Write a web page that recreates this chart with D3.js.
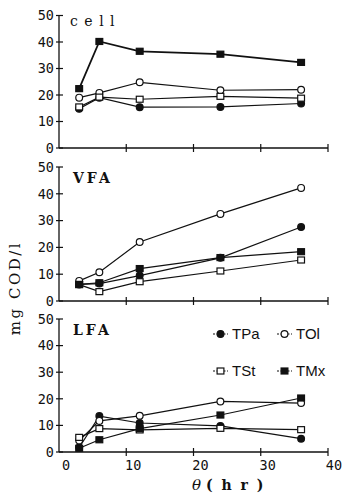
<!DOCTYPE html>
<html>
<head>
<meta charset="utf-8">
<script src="https://cdn.jsdelivr.net/npm/d3@7"></script>
<style>
  body { margin: 0; background: #fff; }
  svg { display: block; }
  .tick-num { font-family: "DejaVu Sans Mono", monospace; font-size: 13.5px; font-variant-numeric: slashed-zero; fill: #111; }
  .panel-label { font-family: "DejaVu Serif", serif; font-size: 14px; fill: #111; }
  .legend-text { font-family: "Liberation Sans", sans-serif; font-size: 15px; fill: #111; }
</style>
</head>
<body>
<div id="chart"></div>
<script>
// sampling times (hr)
const hours = [3, 6, 12, 24, 36];
const xTicks = [0, 10, 20, 30, 40];
const yTicks = [0, 10, 20, 30, 40, 50];
const seriesNames = ['TPa', 'TOl', 'TSt', 'TMx'];
const panelNames = ['cell', 'VFA', 'LFA'];

// mg COD/l
const cellTPa = [14.8, 19, 15.4, 15.5, 16.8];
const cellTOl = [19, 20.8, 24.8, 21.8, 22];
const cellTSt = [15.5, 19.2, 18.4, 19.5, 18.8];
const cellTMx = [22.4, 40.2, 36.5, 35.4, 32.3];

const vfaTPa = [6.2, 6.5, 9.5, 16.1, 27.6];
const vfaTOl = [7.5, 10.7, 22, 32.5, 42.2];
const vfaTSt = [6.1, 3.5, 7.2, 11.2, 15.3];
const vfaTMx = [6.2, 6.8, 12.1, 16.2, 18.4];

const lfaTPa = [1.7, 13.5, 10.9, 9.8, 5];
const lfaTOl = [4.3, 11.7, 13.6, 19, 18.4];
const lfaTSt = [5.5, 8.8, 8.3, 8.9, 8.4];
const lfaTMx = [1.4, 4.6, 8.8, 13.9, 20.3];

const panelData = [
  [cellTPa, cellTOl, cellTSt, cellTMx],
  [vfaTPa, vfaTOl, vfaTSt, vfaTMx],
  [lfaTPa, lfaTOl, lfaTSt, lfaTMx]
];

const width = 344, height = 499;
const svg = d3.select('#chart').append('svg')
  .attr('width', width)
  .attr('height', height);

const x = d3.scaleLinear().domain([0, 40]).range([59, 328]);

// baseline (y of 0) and top (y of 50) for each panel
const panelBox = [
  { bottom: 148, top: 15.5 },
  { bottom: 301, top: 167 },
  { bottom: 452, top: 319 }
];

// marker styles per series
const markers = {
  TPa: { shape: 'circle', fill: '#111' },
  TOl: { shape: 'circle', fill: '#fff' },
  TSt: { shape: 'square', fill: '#fff' },
  TMx: { shape: 'square', fill: '#111' }
};

function drawMarker(g, cx, cy, name) {
  const m = markers[name];
  if (m.shape === 'circle') {
    g.append('circle')
      .attr('cx', cx).attr('cy', cy).attr('r', 3.4)
      .attr('fill', m.fill).attr('stroke', '#111').attr('stroke-width', 1.2);
  } else {
    g.append('rect')
      .attr('x', cx - 3.4).attr('y', cy - 3).attr('width', 6.8).attr('height', 6)
      .attr('fill', m.fill).attr('stroke', '#111').attr('stroke-width', 1.2);
  }
}

panelBox.forEach((box, pi) => {
  const y = d3.scaleLinear().domain([0, 50]).range([box.bottom, box.top]);
  const g = svg.append('g');

  // y axis line + crossing ticks
  g.append('line')
    .attr('x1', x(0)).attr('x2', x(0))
    .attr('y1', y(0)).attr('y2', y(50))
    .attr('stroke', '#111').attr('stroke-width', 1.3);
  yTicks.forEach(t => {
    g.append('line')
      .attr('x1', x(0) - 3).attr('x2', x(0) + 4)
      .attr('y1', y(t)).attr('y2', y(t))
      .attr('stroke', '#111').attr('stroke-width', 1.2);
    g.append('text')
      .attr('class', 'tick-num')
      .attr('x', x(0) - 5).attr('y', y(t))
      .attr('dy', '0.36em')
      .attr('text-anchor', 'end')
      .text(t);
  });

  // x axis line + crossing ticks
  g.append('line')
    .attr('x1', x(0)).attr('x2', x(40))
    .attr('y1', y(0)).attr('y2', y(0))
    .attr('stroke', '#111').attr('stroke-width', 1.3);
  xTicks.slice(1).forEach(t => {
    g.append('line')
      .attr('x1', x(t)).attr('x2', x(t))
      .attr('y1', y(0) - 4).attr('y2', y(0) + 4)
      .attr('stroke', '#111').attr('stroke-width', 1.2);
  });

  // series
  const line = d3.line()
    .x((d, i) => x(hours[i]))
    .y(d => y(d));
  panelData[pi].forEach((vals, si) => {
    g.append('path')
      .attr('d', line(vals))
      .attr('fill', 'none')
      .attr('stroke', '#111')
      .attr('stroke-width', seriesNames[si] === 'TMx' && pi === 0 ? 1.8 : 1.2);
  });
  panelData[pi].forEach((vals, si) => {
    vals.forEach((v, i) => drawMarker(g, x(hours[i]), y(v), seriesNames[si]));
  });

  // panel label
  const lbl = g.append('text')
    .attr('class', 'panel-label')
    .attr('x', x(0) + (pi === 0 ? 11 : 14))
    .attr('y', y(50) + (pi === 0 ? 10 : 16))
    .text(panelNames[pi]);
  if (pi === 0) lbl.attr('letter-spacing', 6.5).attr('font-size', 15);
  else lbl.attr('letter-spacing', 3).attr('font-weight', 'bold');
});

// x tick labels under the bottom panel
xTicks.forEach(t => {
  svg.append('text')
    .attr('class', 'tick-num')
    .attr('x', Math.min(x(t) + 7, 334)).attr('y', 470)
    .attr('text-anchor', 'middle')
    .text(t);
});

// x axis title
const xt = svg.append('text')
  .attr('x', 192).attr('y', 490)
  .attr('font-family', 'DejaVu Serif, serif')
  .attr('font-size', 14)
  .attr('fill', '#111');
xt.append('tspan').attr('font-style', 'italic').attr('font-size', 15).text('θ');
xt.append('tspan').attr('dx', 5).attr('letter-spacing', 2).attr('font-weight', 'bold').attr('xml:space', 'preserve').text('( h r )');

// y axis title
svg.append('text')
  .attr('transform', 'translate(20,288) rotate(-90)')
  .attr('text-anchor', 'middle')
  .attr('font-family', 'DejaVu Serif, serif')
  .attr('font-size', 15)
  .attr('letter-spacing', 2.5)
  .attr('fill', '#111')
  .text('mg COD/l');

// legend (inside LFA panel)
const legendPos = [
  { x: 213, y: 334 },
  { x: 277, y: 334 },
  { x: 213, y: 371 },
  { x: 277, y: 371 }
];
seriesNames.forEach((name, i) => {
  const p = legendPos[i];
  const lg = svg.append('g');
  lg.append('line')
    .attr('x1', p.x).attr('x2', p.x + 15)
    .attr('y1', p.y).attr('y2', p.y)
    .attr('stroke', '#111').attr('stroke-width', 1.1)
    .attr('stroke-dasharray', '2,1.5');
  drawMarker(lg, p.x + 7.5, p.y, name);
  lg.append('text')
    .attr('class', 'legend-text')
    .attr('x', p.x + 19).attr('y', p.y)
    .attr('dy', '0.36em')
    .text(name);
});
</script>
</body>
</html>
